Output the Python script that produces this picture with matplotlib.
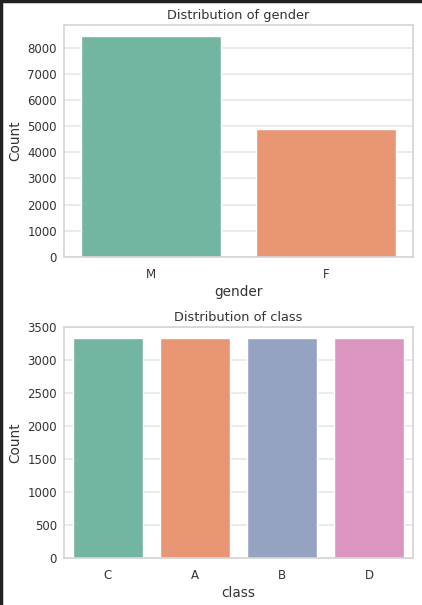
import matplotlib
matplotlib.use("Agg")
from matplotlib import pyplot as plt
from matplotlib.lines import Line2D
import seaborn as sns

gender_labels = ["M", "F"]
gender_counts = [8440, 4895]

class_labels = ["C", "A", "B", "D"]
class_counts = [3338, 3337, 3336, 3335]


def draw_counts(ax, labels, counts, name):
    # seaborn barplot draws its palette at 75% saturation
    colors = [sns.desaturate(c, 0.75) for c in sns.color_palette("Set2", len(labels))]
    ax.bar(range(len(labels)), counts, width=0.8, color=colors)
    ax.set_xticks(range(len(labels)))
    ax.set_xticklabels(labels)
    ax.set_xlim(-0.5, len(labels) - 0.5)
    ax.set_ylim(0, max(counts) * 1.05)
    ax.grid(False, axis="x")
    ax.grid(True, axis="y", color="0.9", lw=1.1)
    ax.set_axisbelow(True)
    for sp in ax.spines.values():
        sp.set_color("0.83")
        sp.set_linewidth(1.2)
    ax.set_title("Distribution of " + name, fontsize=9.3, color=".2", pad=4)
    ax.set_xlabel(name, fontsize=9.8, color=".2", labelpad=3)
    ax.set_ylabel("Count", fontsize=9.8, color=".2", labelpad=4)
    ax.tick_params(axis="y", labelsize=8.5, colors=".2", length=0, pad=5)
    ax.tick_params(axis="x", labelsize=8.5, colors=".2", length=0, pad=8)


def produce_graphs():
    sns.set_theme(style="whitegrid")
    plt.rcParams["font.family"] = ["DejaVu Sans"]

    fig = plt.figure(figsize=(4.22, 6.05), dpi=100)
    ax1 = fig.add_axes([64 / 422, 1 - 257 / 605, 349 / 422, 232 / 605])
    ax2 = fig.add_axes([64 / 422, 1 - 558 / 605, 349 / 422, 231 / 605])

    draw_counts(ax1, gender_labels, gender_counts, "gender")
    draw_counts(ax2, class_labels, class_counts, "class")

    # screenshot frame edges
    fig.add_artist(Line2D([0.002, 0.002], [0, 1], color="#222222", lw=2.5,
                          transform=fig.transFigure))
    fig.add_artist(Line2D([0, 1], [0.998, 0.998], color="#222222", lw=2.5,
                          transform=fig.transFigure))

    fig.savefig("out.png", dpi=100)


if __name__ == "__main__":
    produce_graphs()
